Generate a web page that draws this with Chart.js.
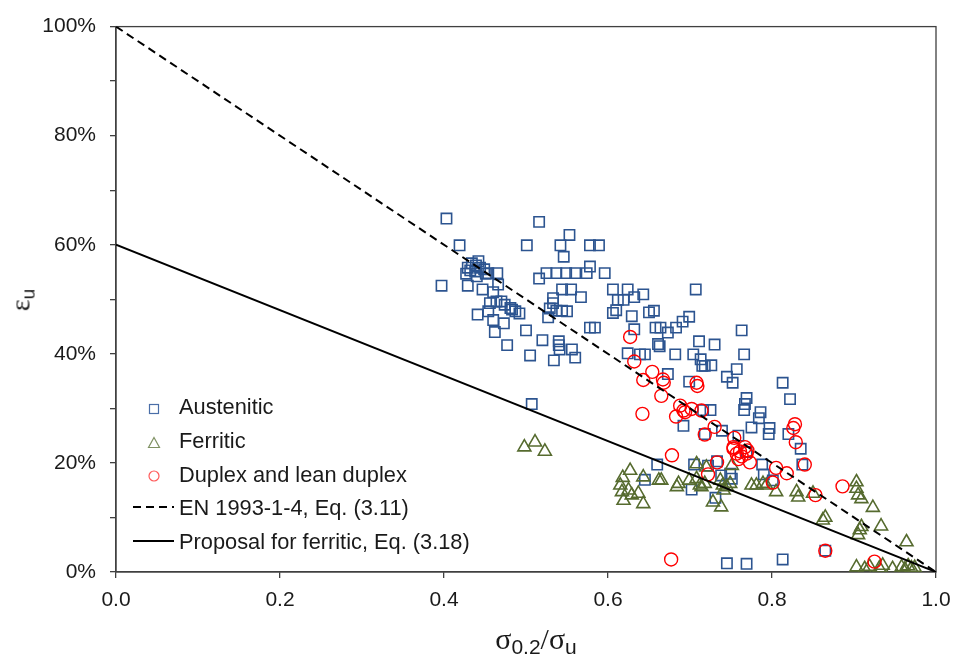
<!DOCTYPE html>
<html>
<head>
<meta charset="utf-8">
<script src="https://cdn.jsdelivr.net/npm/chart.js@4.4.1/dist/chart.umd.min.js"></script>
<style>
  html, body { margin: 0; padding: 0; background: #fff; }
  #wrap { position: relative; width: 956px; height: 662px; font-family: "Liberation Sans", Arial, sans-serif; color: #1a1a1a; }
  #chart { position: absolute; left: 0; top: 0; }
  .leg { position: absolute; left: 179px; height: 26px; line-height: 26px; font-size: 21.8px; white-space: nowrap; }
  .mark { position: absolute; }
  #xTitle { position: absolute; left: 0; width: 1072px; top: 622px; text-align: center; font-family: "Liberation Serif", "Times New Roman", serif; font-size: 30px; }
  #xTitle sub, #yTitle sub { font-size: 21px; font-family: "Liberation Sans", Arial, sans-serif; vertical-align: -5px; }
  #yTitle { position: absolute; left: 22px; top: 300px; transform: translate(-50%, -50%) rotate(-90deg); font-family: "Liberation Serif", "Times New Roman", serif; font-size: 28px; white-space: nowrap; }
  #yTitle sub { font-size: 19px; }
</style>
</head>
<body>
<div id="wrap">
  <canvas id="chart" width="956" height="662"></canvas>

  <svg class="mark" style="left:148px;top:403px" width="12" height="12"><rect x="1.5" y="1.5" width="9" height="9" fill="none" stroke="#4a6ea8" stroke-width="1.2"/></svg>
  <div class="leg" style="top:394px">Austenitic</div>

  <svg class="mark" style="left:147px;top:436px" width="14" height="13"><polygon points="7,1.5 12.5,11.5 1.5,11.5" fill="none" stroke="#7f9163" stroke-width="1.2"/></svg>
  <div class="leg" style="top:428px">Ferritic</div>

  <svg class="mark" style="left:147px;top:469px" width="14" height="14"><circle cx="7" cy="7" r="5" fill="none" stroke="#ff5b5b" stroke-width="1.2"/></svg>
  <div class="leg" style="top:462px">Duplex and lean duplex</div>

  <svg class="mark" style="left:132px;top:504px" width="44" height="6"><line x1="1" y1="3" x2="42" y2="3" stroke="#000" stroke-width="2" stroke-dasharray="8,5"/></svg>
  <div class="leg" style="top:495px">EN 1993-1-4, Eq. (3.11)</div>

  <svg class="mark" style="left:132px;top:538px" width="44" height="6"><line x1="1" y1="3" x2="42" y2="3" stroke="#000" stroke-width="2"/></svg>
  <div class="leg" style="top:529px">Proposal for ferritic, Eq. (3.18)</div>

  <div id="xTitle">σ<sub>0.2</sub>/σ<sub>u</sub></div>
  <div id="yTitle">ε<sub>u</sub></div>
</div>

<script>
// Austenitic (squares)
const austeniticX = [
  0.403, 0.419, 0.516, 0.553, 0.501, 0.542, 0.546, 0.578, 0.578, 0.429,
  0.434, 0.439, 0.444, 0.438, 0.432, 0.449, 0.442, 0.451, 0.427, 0.454,
  0.465, 0.440, 0.397, 0.429, 0.447, 0.466, 0.460, 0.456, 0.464, 0.470,
  0.474, 0.483, 0.487, 0.492, 0.481, 0.441, 0.454, 0.460, 0.473, 0.462,
  0.500, 0.477, 0.520, 0.505, 0.534, 0.507, 0.516, 0.525, 0.537, 0.549,
  0.560, 0.574, 0.544, 0.555, 0.567, 0.533, 0.533, 0.537, 0.544, 0.550,
  0.529, 0.527, 0.578, 0.584, 0.540, 0.540, 0.541, 0.556, 0.560, 0.589,
  0.596, 0.606, 0.624, 0.612, 0.619, 0.632, 0.643, 0.707, 0.606, 0.610,
  0.629, 0.650, 0.656, 0.632, 0.658, 0.664, 0.673, 0.683, 0.691, 0.699,
  0.661, 0.663, 0.711, 0.730, 0.763, 0.624, 0.639, 0.645, 0.682, 0.704,
  0.713, 0.715, 0.726, 0.718, 0.766, 0.757, 0.745, 0.752, 0.673, 0.699,
  0.813, 0.769, 0.767, 0.766, 0.822, 0.786, 0.784, 0.775, 0.797, 0.796,
  0.725, 0.716, 0.692, 0.718, 0.739, 0.759, 0.820, 0.835, 0.660, 0.645,
  0.705, 0.722, 0.733, 0.788, 0.790, 0.837, 0.751, 0.749, 0.702, 0.731,
  0.801, 0.745, 0.769, 0.813, 0.865, 0.769, 0.738
];
const austeniticY = [
  64.8, 59.9, 64.2, 61.8, 59.9, 59.9, 57.8, 59.9, 56.0, 55.8,
  56.6, 56.2, 55.8, 55.1, 55.3, 55.5, 57.0, 54.7, 54.7, 54.8,
  54.8, 54.2, 52.5, 52.5, 51.8, 52.7, 51.3, 49.3, 49.6, 49.6,
  49.0, 48.1, 47.8, 47.4, 48.4, 47.2, 47.8, 46.2, 45.6, 44.0,
  44.3, 41.6, 42.5, 39.7, 38.8, 30.8, 53.8, 54.8, 54.8, 54.8,
  54.8, 54.8, 51.8, 51.8, 50.4, 50.2, 49.3, 47.9, 47.9, 47.8,
  48.3, 46.7, 44.8, 44.8, 42.3, 41.6, 40.8, 40.8, 39.3, 59.9,
  54.8, 51.8, 51.8, 49.9, 49.9, 50.4, 50.9, 51.8, 47.5, 48.0,
  46.9, 47.6, 47.9, 44.5, 44.8, 44.8, 43.9, 44.8, 45.9, 46.8,
  41.8, 41.4, 42.3, 41.7, 44.3, 40.1, 39.9, 39.9, 39.9, 39.9,
  39.0, 37.8, 37.9, 37.8, 39.9, 37.2, 35.8, 34.7, 36.3, 34.9,
  34.7, 31.9, 30.8, 29.7, 31.7, 29.3, 28.2, 26.5, 26.4, 25.3,
  29.7, 29.7, 26.8, 25.3, 25.9, 25.0, 25.3, 22.6, 19.7, 16.9,
  19.7, 19.5, 20.3, 19.7, 17.9, 19.7, 17.1, 18.0, 15.1, 13.6,
  16.8, 1.6, 1.5, 2.3, 3.9, 22.0, 17.7
];

// Ferritic (triangles)
const ferriticX = [
  0.498, 0.511, 0.523, 0.618, 0.627, 0.615, 0.617, 0.625, 0.629, 0.619,
  0.637, 0.643, 0.643, 0.662, 0.665, 0.686, 0.684, 0.699, 0.708, 0.708,
  0.712, 0.714, 0.718, 0.720, 0.728, 0.738, 0.737, 0.740, 0.745, 0.741,
  0.749, 0.751, 0.775, 0.781, 0.789, 0.793, 0.805, 0.830, 0.832, 0.850,
  0.862, 0.865, 0.903, 0.903, 0.905, 0.909, 0.923, 0.909, 0.907, 0.905,
  0.933, 0.964, 0.903, 0.913, 0.919, 0.931, 0.935, 0.947, 0.958, 0.962,
  0.966, 0.970, 0.974
];
const ferriticY = [
  22.9, 23.8, 22.1, 17.3, 18.6, 15.9, 14.7, 15.0, 14.1, 13.1,
  14.4, 12.5, 17.4, 16.8, 16.8, 16.2, 15.6, 16.8, 19.8, 17.1,
  15.9, 15.6, 16.2, 19.2, 12.8, 11.9, 16.8, 15.9, 15.6, 15.0,
  16.2, 19.5, 15.9, 15.9, 16.2, 15.9, 14.7, 14.7, 13.7, 14.4,
  9.5, 10.0, 16.5, 15.3, 14.1, 13.4, 11.8, 8.3, 7.7, 6.8,
  8.4, 5.5, 0.9, 0.6, 1.0, 0.7, 1.2, 0.6, 0.9, 0.5,
  1.1, 0.7, 0.8
];

// Duplex and lean duplex (circles)
const duplexX = [
  0.627, 0.632, 0.643, 0.654, 0.667, 0.668, 0.665, 0.642, 0.708, 0.709,
  0.688, 0.692, 0.694, 0.702, 0.714, 0.683, 0.730, 0.718, 0.754, 0.767,
  0.753, 0.828, 0.826, 0.829, 0.757, 0.761, 0.769, 0.773, 0.759, 0.753,
  0.763, 0.770, 0.678, 0.733, 0.722, 0.805, 0.818, 0.801, 0.840, 0.886,
  0.853, 0.677, 0.865, 0.925
];
const duplexY = [
  43.1, 38.6, 35.2, 36.7, 35.3, 34.7, 32.3, 29.0, 34.7, 34.1,
  30.5, 29.6, 29.3, 29.9, 29.6, 28.5, 26.6, 25.2, 24.6, 22.9,
  22.9, 27.1, 26.4, 23.8, 21.7, 22.1, 21.7, 20.1, 20.7, 22.6,
  21.2, 22.3, 21.4, 20.1, 17.9, 19.1, 18.1, 16.4, 19.7, 15.7,
  14.1, 2.3, 3.9, 1.9
];

// Design lines
const enX = [0, 1];
const enY = [100, 0];
const proposalX = [0, 1];
const proposalY = [60, 0];

const xTicks = [0, 0.2, 0.4, 0.6, 0.8, 1.0];

const toPoints = (xs, ys) => xs.map((x, i) => ({ x, y: ys[i] }));

const axisColor = '#404040';
const tickFont = { family: '"Liberation Sans", Arial, sans-serif', size: 21 };

// draws the box round the plot area
const frame = {
  id: 'frame',
  beforeDatasetsDraw(chart) {
    const a = chart.chartArea;
    const ctx = chart.ctx;
    ctx.save();
    ctx.strokeStyle = axisColor;
    ctx.lineWidth = 1.3;
    ctx.strokeRect(a.left, a.top, a.right - a.left, a.bottom - a.top);
    ctx.restore();
  }
};

new Chart(document.getElementById('chart'), {
  type: 'scatter',
  data: {
    datasets: [
      {
        label: 'EN 1993-1-4, Eq. (3.11)',
        type: 'line',
        data: toPoints(enX, enY),
        borderColor: '#000',
        borderWidth: 2,
        borderDash: [8, 5],
        pointRadius: 0,
        order: 0
      },
      {
        label: 'Proposal for ferritic, Eq. (3.18)',
        type: 'line',
        data: toPoints(proposalX, proposalY),
        borderColor: '#000',
        borderWidth: 2,
        pointRadius: 0,
        order: 1
      },
      {
        label: 'Duplex and lean duplex',
        data: toPoints(duplexX, duplexY),
        pointStyle: 'circle',
        pointRadius: 6.5,
        pointBorderWidth: 1.4,
        pointBorderColor: '#ff0000',
        pointBackgroundColor: 'rgba(0,0,0,0)',
        order: 2
      },
      {
        label: 'Ferritic',
        data: toPoints(ferriticX, ferriticY),
        pointStyle: 'triangle',
        pointRadius: 7.5,
        pointBorderWidth: 1.6,
        pointBorderColor: '#566b2f',
        pointBackgroundColor: 'rgba(0,0,0,0)',
        order: 3
      },
      {
        label: 'Austenitic',
        data: toPoints(austeniticX, austeniticY),
        pointStyle: 'rect',
        pointRadius: 7.3,
        pointBorderWidth: 1.6,
        pointBorderColor: '#2c5490',
        pointBackgroundColor: 'rgba(0,0,0,0)',
        order: 4
      }
    ]
  },
  options: {
    responsive: false,
    devicePixelRatio: 1,
    animation: false,
    layout: { padding: { top: 24, right: 0, left: 0, bottom: 0 } },
    plugins: {
      legend: { display: false },
      tooltip: { enabled: false }
    },
    scales: {
      x: {
        type: 'linear',
        min: 0,
        max: 1,
        afterBuildTicks: (scale) => { scale.ticks = xTicks.map(v => ({ value: v })); },
        afterFit: (scale) => {
          scale.height = 90;
          scale.paddingRight = 20;   // plot box ends at about x = 936
          scale.paddingLeft = 0;
        },
        ticks: {
          color: '#1a1a1a',
          font: tickFont,
          padding: 10,
          maxRotation: 0,
          callback: (v) => Number(v).toFixed(1)
        },
        grid: { drawOnChartArea: false, drawTicks: true, tickLength: 6, color: axisColor, lineWidth: 1.3 },
        border: { display: true, color: axisColor, width: 1.3 }
      },
      y: {
        min: 0,
        max: 100,
        afterFit: (scale) => { scale.width = 116; },
        ticks: {
          stepSize: 10,
          color: '#1a1a1a',
          font: tickFont,
          padding: 14,
          callback: (v) => (v % 20 === 0 ? v + '%' : '')
        },
        grid: { drawOnChartArea: false, drawTicks: true, tickLength: 6, color: axisColor, lineWidth: 1.3 },
        border: { display: true, color: axisColor, width: 1.3 }
      }
    }
  },
  plugins: [frame]
});
</script>
</body>
</html>
